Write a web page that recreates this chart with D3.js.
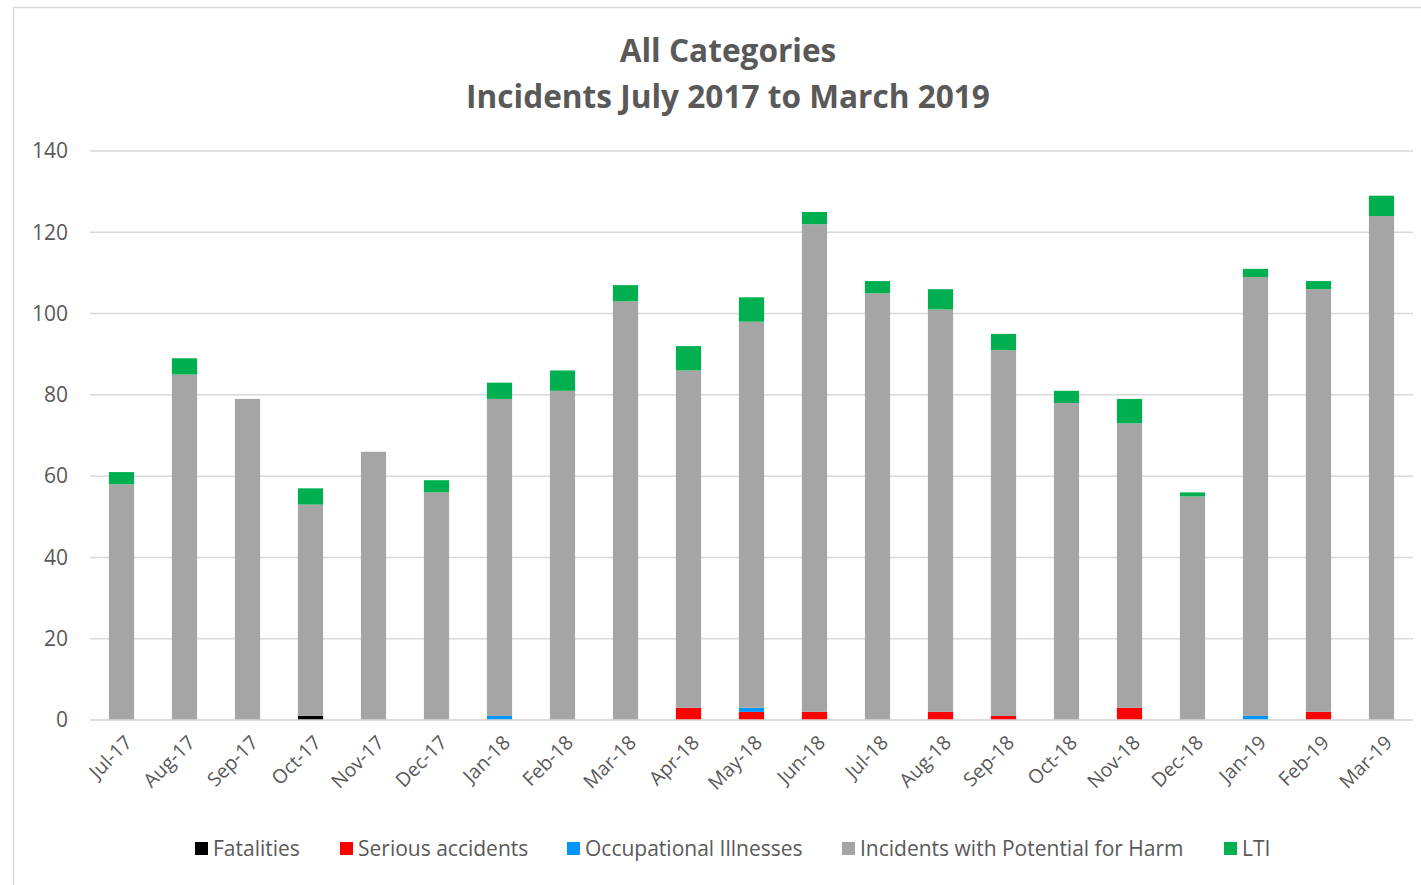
<!DOCTYPE html>
<html>
<head>
<meta charset="utf-8">
<script src="https://cdn.jsdelivr.net/npm/d3@7"></script>
<style>
  body { margin: 0; background: #fff; }
  svg text { font-family: "Open Sans", "Noto Sans", sans-serif; }
</style>
</head>
<body>
<div id="chart"></div>
<script>
// month labels
var months = ["Jul-17", "Aug-17", "Sep-17", "Oct-17", "Nov-17", "Dec-17", "Jan-18", "Feb-18",
  "Mar-18", "Apr-18", "May-18", "Jun-18", "Jul-18", "Aug-18", "Sep-18", "Oct-18", "Nov-18",
  "Dec-18", "Jan-19", "Feb-19", "Mar-19"];

// series values
var fatalities = [0, 0, 0, 1, 0, 0, 0, 0, 0, 0, 0, 0, 0, 0, 0, 0, 0, 0, 0, 0, 0];
var serious    = [0, 0, 0, 0, 0, 0, 0, 0, 0, 3, 2, 2, 0, 2, 1, 0, 3, 0, 0, 2, 0];
var occupational = [0, 0, 0, 0, 0, 0, 1, 0, 0, 0, 1, 0, 0, 0, 0, 0, 0, 0, 1, 0, 0];
var potentialHarm = [58, 85, 79, 52, 66, 56, 78, 81, 103, 83, 95, 120, 105, 99, 90, 78, 70, 55, 108, 104, 124];
var lti = [3, 4, 0, 4, 0, 3, 4, 5, 4, 6, 6, 3, 3, 5, 4, 3, 6, 1, 2, 2, 5];

var seriesNames = ["Fatalities", "Serious accidents", "Occupational Illnesses", "Incidents with Potential for Harm", "LTI"];
var seriesColors = ["#000000", "#ff0000", "#0096ff", "#a5a5a5", "#00b050"];
var yTicks = [0, 20, 40, 60, 80, 100, 120, 140];

var width = 1421, height = 885;
var margin = { top: 151, right: 8, bottom: 165, left: 90 };
var plotW = width - margin.left - margin.right;
var plotH = height - margin.top - margin.bottom;

var svg = d3.select("#chart").append("svg")
  .attr("width", width)
  .attr("height", height);

// chart border
svg.append("rect")
  .attr("x", 13.5).attr("y", 7.5)
  .attr("width", width + 10).attr("height", height + 10)
  .attr("fill", "none")
  .attr("stroke", "#d9d9d9")
  .attr("stroke-width", 1.5);

// title
var title = svg.append("text")
  .attr("text-anchor", "middle")
  .attr("fill", "#595959")
  .style("font-size", "31.6px")
  .style("font-weight", "bold");
title.append("tspan").attr("x", 728).attr("y", 62).text("All Categories");
title.append("tspan").attr("x", 728).attr("y", 108).text("Incidents July 2017 to March 2019");

var g = svg.append("g")
  .attr("transform", "translate(" + margin.left + "," + margin.top + ")");

var x = d3.scaleBand()
  .domain(months)
  .range([0, plotW])
  .paddingInner(0.6)
  .paddingOuter(0.3);

var y = d3.scaleLinear()
  .domain([0, 140])
  .range([plotH, 0]);

// gridlines
g.append("g")
  .selectAll("line")
  .data(yTicks)
  .enter().append("line")
  .attr("x1", 0).attr("x2", plotW)
  .attr("y1", function(d) { return y(d); })
  .attr("y2", function(d) { return y(d); })
  .attr("stroke", "#d9d9d9")
  .attr("stroke-width", 1.5);

// y axis labels
var yAxis = g.append("g")
  .call(d3.axisLeft(y).tickValues(yTicks).tickSize(0).tickPadding(22));
yAxis.select(".domain").remove();
yAxis.selectAll("text")
  .attr("fill", "#595959")
  .style("font-size", "21px");

// stack data
var table = months.map(function(m, i) {
  return { month: m, s0: fatalities[i], s1: serious[i], s2: occupational[i], s3: potentialHarm[i], s4: lti[i] };
});
var stack = d3.stack().keys(["s0", "s1", "s2", "s3", "s4"]);
var layers = stack(table);

g.append("g")
  .selectAll("g")
  .data(layers)
  .enter().append("g")
  .attr("fill", function(d, i) { return seriesColors[i]; })
  .selectAll("rect")
  .data(function(d) { return d; })
  .enter().append("rect")
  .attr("x", function(d) { return x(d.data.month); })
  .attr("y", function(d) { return y(d[1]); })
  .attr("width", x.bandwidth())
  .attr("height", function(d) { return y(d[0]) - y(d[1]); });

// x axis line
g.append("line")
  .attr("x1", 0).attr("x2", plotW)
  .attr("y1", plotH).attr("y2", plotH)
  .attr("stroke", "#d9d9d9")
  .attr("stroke-width", 1.5);

// x labels, rotated
var xAxis = g.append("g")
  .attr("transform", "translate(0," + plotH + ")")
  .call(d3.axisBottom(x).tickSize(0).tickPadding(0));
xAxis.select(".domain").remove();
xAxis.selectAll("text")
  .attr("fill", "#595959")
  .style("font-size", "19.5px")
  .style("text-anchor", "end")
  .attr("dy", "0.35em")
  .attr("transform", "translate(7,19) rotate(-45)");

// legend
var legendX = [195, 340, 567, 842, 1224];
var legend = svg.append("g").selectAll("g")
  .data(seriesNames)
  .enter().append("g")
  .attr("transform", function(d, i) { return "translate(" + legendX[i] + ",842)"; });
legend.append("rect")
  .attr("width", 13).attr("height", 13)
  .attr("fill", function(d, i) { return seriesColors[i]; });
legend.append("text")
  .attr("x", 18).attr("y", 7)
  .attr("dy", "0.35em")
  .attr("fill", "#595959")
  .style("font-size", "21px")
  .text(function(d) { return d; });
</script>
</body>
</html>
